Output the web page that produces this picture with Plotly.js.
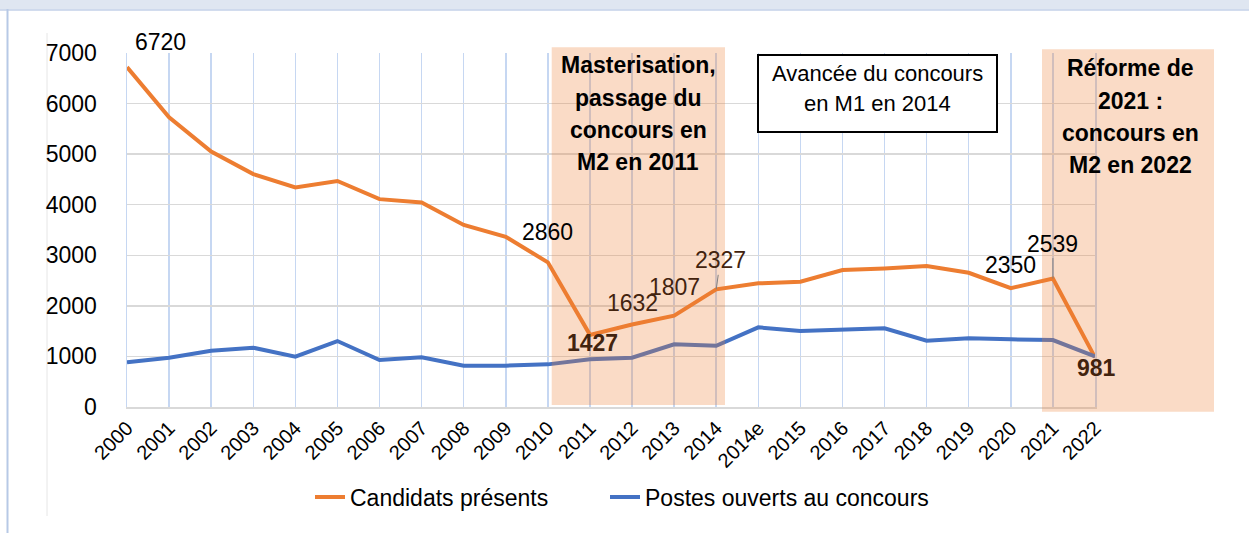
<!DOCTYPE html>
<html>
<head>
<meta charset="utf-8">
<script src="https://cdn.plot.ly/plotly-3.0.1.min.js"></script>
<style>html,body{margin:0;padding:0;background:#fff;}#chart{width:1249px;height:533px;}</style>
</head>
<body>
<div id="chart"></div>
<script>
const years = ["2000","2001","2002","2003","2004","2005","2006","2007","2008","2009","2010","2011","2012","2013","2014","2014e","2015","2016","2017","2018","2019","2020","2021","2022"];
const candidats = [6720,5730,5050,4605,4340,4470,4110,4045,3600,3365,2860,1427,1632,1807,2327,2445,2477,2707,2740,2786,2654,2350,2539,981];
const postes = [883,975,1113,1172,994,1304,929,982,816,818,843,942,975,1239,1212,1575,1502,1522,1555,1310,1357,1338,1324,1000];
const seriesNames = ["Candidats présents","Postes ouverts au concours"];

// data labels: [category, value, xshift, yshift, bold, colour]
const labels = [
  ["2000", 6720, 33, 25, false, "#000"],
  ["2010", 2860, 0, 30, false, "#000"],
  ["2011", 1427, 3, -8, true, "#42230e"],
  ["2012", 1632, 0, 21, false, "#42230e"],
  ["2013", 1807, 0, 29, false, "#42230e"],
  ["2020", 2350, 0, 23, false, "#000"],
  ["2022", 981, 1, -11, true, "#42230e"]
];
const leaderLabels = [
  ["2014", 2327, 4, -29, "#42230e"],
  ["2021", 2539, 0, -35, "#000"]
];
const box1Lines = ["Masterisation,","passage du","concours en","M2 en 2011"];
const box2Lines = ["Réforme de","2021 :","concours en","M2 en 2022"];
const box3Lines = ["Avancée du concours","en M1 en 2014"];

const FONT = "Liberation Sans, Arial, sans-serif";
const orange = "#ED7D31", blue = "#4472C4";
const idx = c => years.indexOf(c);

const traces = [
  {x: years.map((c, i) => i), y: candidats, name: seriesNames[0], type: "scatter", mode: "lines",
   line: {color: orange, width: 4}, legend: "legend"},
  {x: years.map((c, i) => i), y: postes, name: seriesNames[1], type: "scatter", mode: "lines",
   line: {color: blue, width: 4}, legend: "legend2"}
];

// pixel helpers for layout-only items (plot area 127..1095 x, 53..407 y)
const L = 127, R = 1095, T = 53, B = 407;
const px = v => (v - L) / (R - L);
const py = v => (B - v) / (B - T);

const annotations = [];
labels.forEach(l => annotations.push({
  x: idx(l[0]), y: l[1], xref: "x", yref: "y", text: l[4] ? "<b>" + l[1] + "</b>" : String(l[1]),
  showarrow: false, xshift: l[2], yshift: l[3], xanchor: "center", yanchor: "middle",
  font: {family: FONT, size: 23, color: l[5]}
}));
leaderLabels.forEach(l => annotations.push({
  x: idx(l[0]), y: l[1], xref: "x", yref: "y", text: String(l[1]),
  showarrow: true, arrowhead: 0, arrowwidth: 1, arrowcolor: "#808080",
  ax: l[2], ay: l[3], standoff: 0,
  font: {family: FONT, size: 23, color: l[4]}
}));
const b1y = [65, 98, 130, 162];
box1Lines.forEach((t, i) => annotations.push({
  x: px(638), y: py(b1y[i]), xref: "paper", yref: "paper", text: "<b>" + t + "</b>",
  showarrow: false, xanchor: "center", yanchor: "middle",
  font: {family: FONT, size: 23, color: "#000"}
}));
const b2y = [68, 101, 133, 165];
box2Lines.forEach((t, i) => annotations.push({
  x: px(1130), y: py(b2y[i]), xref: "paper", yref: "paper", text: "<b>" + t + "</b>",
  showarrow: false, xanchor: "center", yanchor: "middle",
  font: {family: FONT, size: 23, color: "#000"}
}));
const b3y = [74, 104];
box3Lines.forEach((t, i) => annotations.push({
  x: px(877), y: py(b3y[i]), xref: "paper", yref: "paper", text: t,
  showarrow: false, xanchor: "center", yanchor: "middle",
  font: {family: FONT, size: 22, color: "#000"}
}));

const shapes = [
  // frame decorations
  {type: "rect", xref: "paper", yref: "paper", x0: px(0), x1: px(1249), y0: py(9.5), y1: py(0),
   fillcolor: "#dfe6f1", line: {width: 0}, layer: "below"},
  {type: "line", xref: "paper", yref: "paper", x0: px(0), x1: px(1249), y0: py(10), y1: py(10),
   line: {color: "#c3d1e8", width: 1.5}, layer: "below"},
  {type: "line", xref: "paper", yref: "paper", x0: px(7.5), x1: px(7.5), y0: py(533), y1: py(9),
   line: {color: "#b7c9e6", width: 2}, layer: "below"},
  {type: "line", xref: "paper", yref: "paper", x0: px(47), x1: px(47), y0: py(516), y1: py(33),
   line: {color: "#e6e6e6", width: 1}, layer: "below"},
  // shaded periods
  {type: "rect", xref: "paper", yref: "paper", x0: px(551.7), x1: px(725), y0: py(405), y1: py(47.3),
   fillcolor: "#EE7F33", opacity: 0.28, line: {width: 0}, layer: "above"},
  {type: "rect", xref: "paper", yref: "paper", x0: px(1042), x1: px(1214), y0: py(411.7), y1: py(49.3),
   fillcolor: "#EE7F33", opacity: 0.28, line: {width: 0}, layer: "above"},
  // text box
  {type: "rect", xref: "paper", yref: "paper", x0: px(758), x1: px(997), y0: py(132), y1: py(55),
   fillcolor: "#ffffff", line: {color: "#000", width: 2}, layer: "above"}
];

const legendFont = {family: FONT, size: 23, color: "#000"};
const layout = {
  width: 1249, height: 533,
  margin: {l: L, r: 1249 - R, t: T, b: 533 - B},
  paper_bgcolor: "#ffffff", plot_bgcolor: "#ffffff",
  showlegend: true,
  legend: {orientation: "h", x: px(310), xanchor: "left", y: py(497), yanchor: "middle",
           font: legendFont, bgcolor: "rgba(0,0,0,0)"},
  legend2: {orientation: "h", x: px(605), xanchor: "left", y: py(497), yanchor: "middle",
           font: legendFont, bgcolor: "rgba(0,0,0,0)"},
  xaxis: {range: [0, 23], tickmode: "array", tickvals: years.map((c, i) => i), ticktext: years,
          tickangle: -45,
          showgrid: true, gridcolor: "#c6d7f2", gridwidth: 1.5,
          showline: true, linecolor: "#d9d9d9", linewidth: 1.5,
          ticks: "", tickfont: {family: FONT, size: 20, color: "#000"}, automargin: false, fixedrange: true},
  yaxis: {range: [0, 7000], dtick: 1000, tick0: 0, showgrid: true, gridcolor: "#d9d9d9", gridwidth: 1.5,
          zeroline: false, showline: true, mirror: true, linecolor: "#c6d7f2", linewidth: 1.5,
          ticks: "", ticklabelstandoff: 24,
          tickfont: {family: FONT, size: 23, color: "#000"}, automargin: false, fixedrange: true},
  annotations: annotations,
  shapes: shapes
};

Plotly.newPlot("chart", traces, layout, {displayModeBar: false, staticPlot: true});
</script>
</body>
</html>
